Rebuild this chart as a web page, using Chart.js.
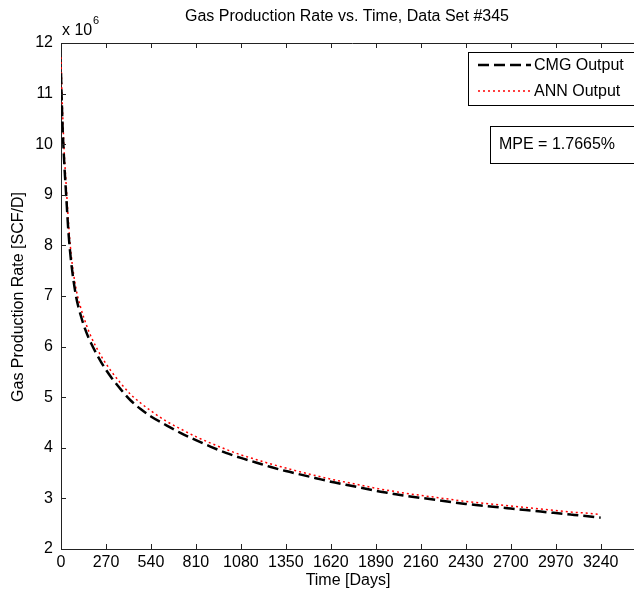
<!DOCTYPE html>
<html>
<head>
<meta charset="UTF-8">
<title>Gas Production Rate vs. Time</title>
<script src="https://cdn.jsdelivr.net/npm/chart.js"></script>
<style>
  html, body { margin: 0; padding: 0; background: #fff; overflow: hidden; }
  #wrap { width: 660px; height: 594px; }
</style>
</head>
<body>
<div id="wrap"><canvas id="gasChart" width="660" height="594"></canvas></div>
<script>
// time in days
const days = [0, 5, 10, 20, 30, 45, 60, 90, 120, 150, 180, 240, 300, 360, 420, 480, 540, 630, 720, 810,
              900, 990, 1080, 1170, 1260, 1350, 1440, 1530, 1620, 1710, 1800, 1890, 1980, 2070, 2160,
              2250, 2340, 2430, 2520, 2610, 2700, 2790, 2880, 2970, 3060, 3150, 3240];
// gas rate, x 10^6 SCF/D
const cmgOutput = [11.4, 10.8, 10.3, 9.6, 9.05, 8.25, 7.7, 7.0, 6.6, 6.3, 6.07, 5.7, 5.4, 5.15, 4.93, 4.76, 4.62, 4.45, 4.29, 4.15,
                   4.02, 3.90, 3.80, 3.71, 3.62, 3.54, 3.47, 3.40, 3.33, 3.27, 3.21, 3.15, 3.10, 3.05, 3.01,
                   2.97, 2.93, 2.89, 2.86, 2.83, 2.80, 2.77, 2.74, 2.71, 2.68, 2.65, 2.62];
const annOutput = [11.72, 11.1, 10.6, 9.8, 9.25, 8.45, 7.85, 7.15, 6.75, 6.45, 6.2, 5.82, 5.52, 5.27, 5.05, 4.88, 4.73, 4.53, 4.37, 4.22,
                   4.09, 3.97, 3.86, 3.77, 3.68, 3.60, 3.52, 3.45, 3.38, 3.32, 3.26, 3.20, 3.15, 3.10, 3.06,
                   3.02, 2.98, 2.94, 2.91, 2.88, 2.85, 2.82, 2.79, 2.76, 2.73, 2.71, 2.68];
const xTicks = [0, 270, 540, 810, 1080, 1350, 1620, 1890, 2160, 2430, 2700, 2970, 3240];
const yTicks = [2, 3, 4, 5, 6, 7, 8, 9, 10, 11, 12];
const mpeText = 'MPE = 1.7665%';

const FONT = '"Liberation Sans", Arial, sans-serif';
const INK = '#000';

const matlabAxes = {
  id: 'matlabAxes',
  afterDraw(chart) {
    const ctx = chart.ctx;
    const a = chart.chartArea;
    const xs = chart.scales.x, ys = chart.scales.y;
    ctx.save();
    ctx.strokeStyle = '#222';
    ctx.lineWidth = 1;
    // top + right box lines
    ctx.beginPath();
    ctx.moveTo(a.left, a.top + 0.5); ctx.lineTo(a.right, a.top + 0.5);
    ctx.moveTo(a.right - 0.5, a.top); ctx.lineTo(a.right - 0.5, a.bottom);
    ctx.stroke();
    // inward ticks
    ctx.beginPath();
    xTicks.forEach(v => {
      const px = Math.round(xs.getPixelForValue(v)) + 0.5;
      ctx.moveTo(px, a.bottom); ctx.lineTo(px, a.bottom - 5);
      ctx.moveTo(px, a.top); ctx.lineTo(px, a.top + 5);
    });
    yTicks.forEach(v => {
      const py = Math.round(ys.getPixelForValue(v)) + 0.5;
      ctx.moveTo(a.left, py); ctx.lineTo(a.left + 5, py);
      ctx.moveTo(a.right, py); ctx.lineTo(a.right - 5, py);
    });
    ctx.stroke();

    ctx.fillStyle = INK;
    // title
    ctx.font = '16px ' + FONT;
    ctx.textAlign = 'center';
    ctx.textBaseline = 'middle';
    ctx.fillText('Gas Production Rate vs. Time, Data Set #345', 347, 17);
    // axis titles
    ctx.fillText('Time [Days]', 348, 581);
    ctx.save();
    ctx.translate(19, 297);
    ctx.rotate(-Math.PI / 2);
    ctx.fillText('Gas Production Rate [SCF/D]', 0, 0);
    ctx.restore();
    // exponent
    ctx.textAlign = 'left';
    ctx.fillText('x 10', 62, 31);
    ctx.font = '11px ' + FONT;
    ctx.fillText('6', 93, 21);

    // legend box
    ctx.strokeStyle = INK;
    ctx.lineWidth = 1;
    ctx.fillStyle = '#fff';
    ctx.fillRect(468, 52, 172, 53);
    ctx.strokeRect(468.5, 52.5, 172, 53);
    const ds = chart.data.datasets;
    const rows = [65, 91];
    ds.forEach((d, i) => {
      ctx.save();
      ctx.strokeStyle = d.borderColor;
      ctx.lineWidth = d.borderWidth;
      ctx.setLineDash(d.borderDash);
      ctx.beginPath();
      ctx.moveTo(478, rows[i]); ctx.lineTo(531, rows[i]);
      ctx.stroke();
      ctx.restore();
      ctx.fillStyle = INK;
      ctx.font = '16px ' + FONT;
      ctx.textAlign = 'left';
      ctx.fillText(d.label, 534, rows[i] + 1);
    });
    // MPE box
    ctx.fillStyle = '#fff';
    ctx.fillRect(490, 126, 150, 37);
    ctx.strokeRect(490.5, 126.5, 150, 37);
    ctx.fillStyle = INK;
    ctx.font = '16px ' + FONT;
    ctx.fillText(mpeText, 499, 145);
    ctx.restore();
  }
};

new Chart(document.getElementById('gasChart').getContext('2d'), {
  type: 'line',
  data: {
    datasets: [
      {
        label: 'CMG Output',
        data: days.map((d, i) => ({ x: d, y: cmgOutput[i] })),
        borderColor: '#000',
        borderWidth: 2.5,
        borderDash: [11, 5],
        pointRadius: 0,
        cubicInterpolationMode: 'monotone',
        fill: false
      },
      {
        label: 'ANN Output',
        data: days.map((d, i) => ({ x: d, y: annOutput[i] })),
        borderColor: '#ff0000',
        borderWidth: 1.5,
        borderDash: [2, 3],
        pointRadius: 0,
        cubicInterpolationMode: 'monotone',
        fill: false
      }
    ]
  },
  options: {
    responsive: false,
    animation: false,
    layout: { padding: { left: 0, top: 43, right: 16, bottom: 0 } },
    plugins: { legend: { display: false }, tooltip: { enabled: false } },
    scales: {
      x: {
        type: 'linear',
        min: 0,
        max: 3500,
        afterBuildTicks: s => { s.ticks = xTicks.map(v => ({ value: v })); },
        afterFit: s => { s.height = 45; },
        grid: { display: false, drawTicks: false },
        border: { display: true, color: '#222', width: 1 },
        ticks: { color: INK, font: { family: FONT, size: 16 }, padding: 4, maxRotation: 0, autoSkip: false,
                 callback: v => String(v) }
      },
      y: {
        min: 2,
        max: 12,
        afterBuildTicks: s => { s.ticks = yTicks.map(v => ({ value: v })); },
        afterFit: s => { s.width = 61; },
        grid: { display: false, drawTicks: false },
        border: { display: true, color: '#222', width: 1 },
        ticks: { color: INK, font: { family: FONT, size: 16 }, padding: 8, callback: v => String(v) }
      }
    }
  },
  plugins: [matlabAxes]
});
</script>
</body>
</html>
